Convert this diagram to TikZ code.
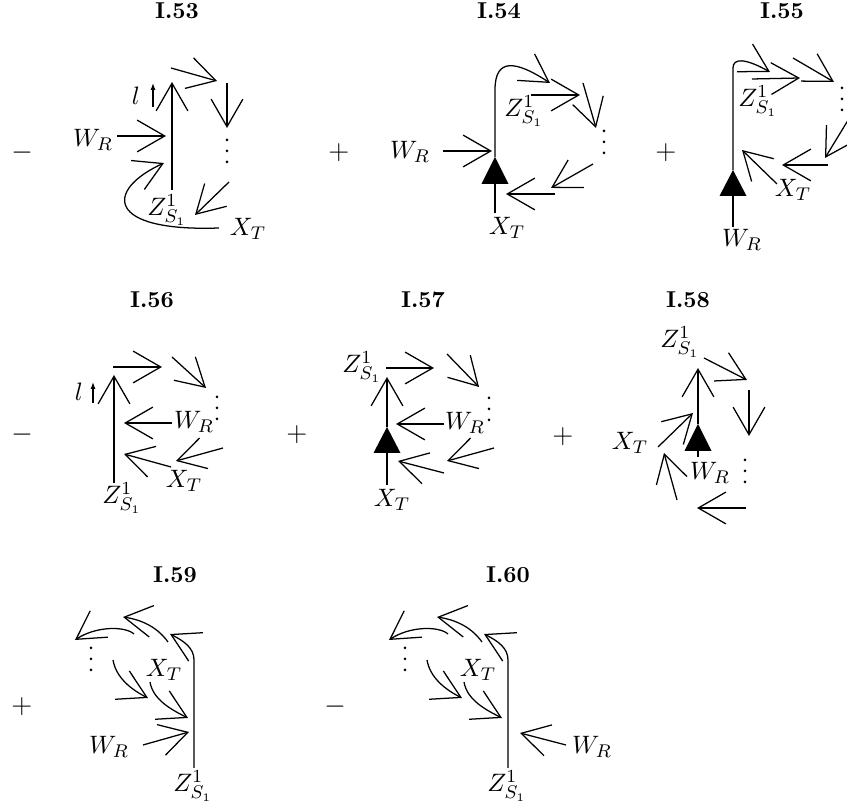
\documentclass[tikz,border=0pt]{standalone}
\usetikzlibrary{arrows.meta}
\begin{document}
\begin{tikzpicture}[x=0.435pt,y=-0.435pt,line width=0.55pt,
  barb/.style={-{Straight Barb[length=12pt,width=13.8pt]}},
  smallarr/.style={-{Latex[length=3pt,width=2.2pt]}},
  ttl/.style={font=\bfseries,inner sep=0pt},
  lab/.style={inner sep=0pt,font=\fontsize{11}{13}\selectfont},
  op/.style={inner sep=0pt,font=\fontsize{12}{14}\selectfont}]
\useasboundingbox (0,0) rectangle (847,802);
\newcommand\mydots[2]{\fill (#1,#2) circle[radius=0.65pt] (#1,#2+11) circle[radius=0.65pt] (#1,#2+22) circle[radius=0.65pt];}
% ---------- I.53 ----------
\node[ttl] (t53) at (177,11) {I.53};
\node[op] (s53) at (22,153) {$-$};
\node[lab] (w53) at (93,140) {$W_R$};
\draw[barb] (117,136) -- (166,136);
\draw[barb] (172,190) -- (172,82);
\node[lab] (l53) at (136,96) {$l$};
\draw[smallarr] (153,107) -- (153,83);
\draw[barb] (171,68) -- (217,81);
\draw[barb] (227,83) -- (227,128);
\mydots{227}{140}
\draw[barb] (229,182) -- (195,215);
\node[lab] (z53) at (167,210) {$Z^1_{S_1}$};
\node[lab] (x53) at (248,229) {$X_T$};
\draw[barb] (219,228) .. controls (105,232) and (105,190) .. (164,163);
% ---------- I.54 ----------
\node[ttl] (t54) at (499,11) {I.54};
\node[op] (s54) at (339,153) {$+$};
\node[lab] (w54) at (410,152) {$W_R$};
\draw[barb] (443,151) -- (492,151);
\draw (495,213) -- (495,184);
\fill (495,157) -- (481.5,184) -- (508.5,184) -- cycle;
\draw[barb] (495,157) -- (495,90) .. controls (495,58) and (515,60) .. (550,83);
\draw[barb] (531,95) -- (580,95);
\node[lab] (z54) at (524,111) {$Z^1_{S_1}$};
\draw[barb] (583,83) -- (596,128);
\mydots{604}{131}
\draw[barb] (593,164) -- (551,188);
\draw[barb] (555,194) -- (506,194);
\node[lab] (x54) at (507,228) {$X_T$};
% ---------- I.55 ----------
\node[ttl] (t55) at (782,11) {I.55};
\node[op] (s55) at (666,153) {$+$};
\draw (733,227) -- (733,196);
\fill (733,170) -- (719.5,196) -- (746.5,196) -- cycle;
\draw[barb] (733,170) -- (733,68) .. controls (733,58) and (745,58) .. (770,72);
\draw[barb] (752,79) -- (800,78);
\draw[barb] (793,58) -- (834,82);
\mydots{842}{88}
\draw[barb] (850,117) -- (825,158);
\draw[barb] (828,165) -- (782,165);
\draw[barb] (777,184) -- (742,150);
\node[lab] (z55) at (758,101) {$Z^1_{S_1}$};
\node[lab] (x55) at (793,190) {$X_T$};
\node[lab] (w55) at (742,240) {$W_R$};
% ---------- I.56 ----------
\node[ttl] (t56) at (152,300) {I.56};
\node[op] (s56) at (22,435) {$-$};
\draw[barb] (114,483) -- (114,375);
\node[lab] (l56) at (79,392) {$l$};
\draw[smallarr] (93,403) -- (93,382);
\draw[barb] (113,367) -- (162,367);
\draw[barb] (172,357) -- (206,388);
\mydots{217}{397}
\draw[barb] (172,423) -- (124,423);
\node[lab] (w56) at (194,422) {$W_R$};
\draw[barb] (171,467) -- (124,454);
\draw[barb] (223,448) -- (176,461);
\node[lab] (x56) at (184,481) {$X_T$};
\node[lab] (z56) at (122,498) {$Z^1_{S_1}$};
% ---------- I.57 ----------
\node[ttl] (t57) at (423,300) {I.57};
\node[op] (s57) at (297,435) {$+$};
\node[lab] (z57) at (362,367) {$Z^1_{S_1}$};
\draw[barb] (387,427) -- (387,377);
\fill (387,427) -- (373.5,453) -- (400.5,453) -- cycle;
\draw (387,453) -- (387,485);
\node[lab] (x57) at (392,500) {$X_T$};
\draw[barb] (386,368) -- (434,368);
\draw[barb] (447,354) -- (479,387);
\mydots{489}{398}
\draw[barb] (444,424) -- (396,424);
\node[lab] (w57) at (465,423) {$W_R$};
\draw[barb] (444,473) -- (398,461);
\draw[barb] (494,448) -- (447,461);
% ---------- I.58 ----------
\node[ttl] (t58) at (688,300) {I.58};
\node[op] (s58) at (563,437) {$+$};
\node[lab] (z58) at (680,342) {$Z^1_{S_1}$};
\draw[barb] (698,424) -- (698,368);
\fill (698,424) -- (684.5,451) -- (711.5,451) -- cycle;
\draw (698,451) -- (698,457);
\node[lab] (w58) at (710,473) {$W_R$};
\draw[barb] (704,358) -- (747,380);
\draw[barb] (749,390) -- (749,436);
\mydots{745}{460}
\draw[barb] (746,508) -- (697,508);
\draw[barb] (658,447) -- (693,413);
\draw[barb] (677,500) -- (664,453);
\node[lab] (x58) at (630,443) {$X_T$};
% ---------- I.59 ----------
\node[ttl] (t59) at (175,575) {I.59};
\node[op] (s59) at (22,707) {$+$};
\draw[barb] (143,745) -- (189,732);
\node[lab] (w59) at (109,747) {$W_R$};
% ---------- I.60 ----------
\node[ttl] (t60) at (508,575) {I.60};
\node[op] (s60) at (335,707) {$-$};
\draw[barb] (566,745) -- (520,733);
\node[lab] (w60) at (592,747) {$W_R$};
% ---------- common part of I.59 and I.60 ----------
\foreach \dx in {0,314}{
\begin{scope}[shift={(\dx,0)}]
\draw[barb] (194,768) -- (194,660) .. controls (194,648) and (184,641) .. (170,634);
\node[lab] at (164,670) {$X_T$};
\node[lab] at (193,786) {$Z^1_{S_1}$};
\draw[barb] (150,682) .. controls (153,700) and (172,710) .. (188,718);
\draw[barb] (113,660) .. controls (116,678) and (132,690) .. (148,698);
\draw[barb] (134,634) .. controls (125,626) and (96,626) .. (75,640);
\draw[barb] (168,642) .. controls (158,628) and (143,620) .. (123,617);
\mydots{91}{648}
\end{scope}}
\end{tikzpicture}
\end{document}
